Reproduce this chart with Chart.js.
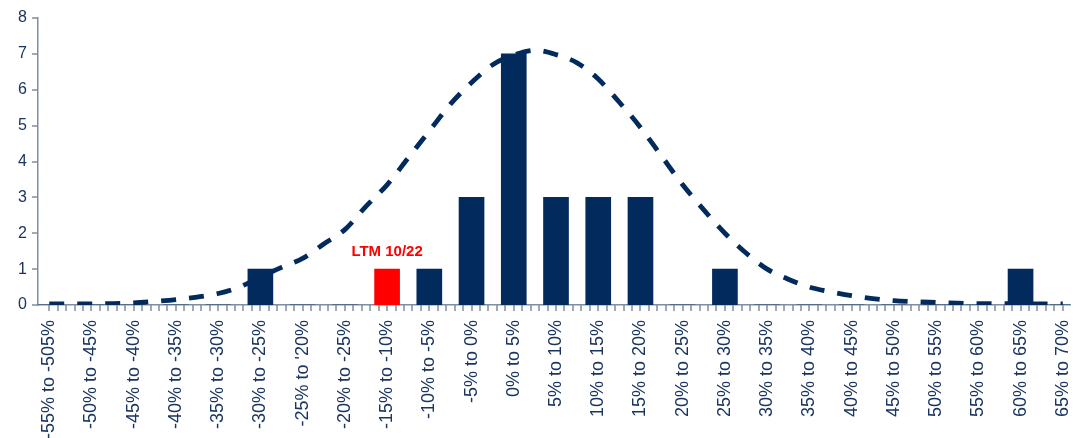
<!DOCTYPE html>
<html>
<head>
<meta charset="utf-8">
<script src="https://cdn.jsdelivr.net/npm/chart.js@4/dist/chart.umd.min.js"></script>
<style>
  html, body { margin: 0; padding: 0; background: #ffffff; }
  #wrap { width: 1074px; height: 438px; }
</style>
</head>
<body>
<div id="wrap"><canvas id="chart" width="1074" height="438"></canvas></div>
<script>
// Return bins (5% wide) and how many observations fall in each
const binLabels = [
  '-55% to -505%', '-50% to -45%', '-45% to -40%', '-40% to -35%', '-35% to -30%',
  '-30% to -25%', "-25% to '20%", '-20% to -25%', '-15% to -10%', '-10% to -5%',
  '-5% to 0%', '0% to 5%', '5% to 10%', '10% to 15%', '15% to 20%',
  '20% to 25%', '25% to 30%', '30% to 35%', '35% to 40%', '40% to 45%',
  '45% to 50%', '50% to 55%', '55% to 60%', '60% to 65%', '65% to 70%'
];
const binCounts = [0, 0, 0, 0, 0, 1, 0, 0, 1, 1, 3, 7, 3, 3, 3, 0, 1, 0, 0, 0, 0, 0, 0, 1, 0];

// Bin holding the latest twelve-month return
const highlightIndex = 8;
const highlightText = 'LTM 10/22';

// Fitted normal curve, sampled every half bin (bin index, expected count)
const curveX = [0, 0.5, 1, 1.5, 2, 2.5, 3, 3.5, 4, 4.5, 5, 5.5, 6, 6.5, 7, 7.5, 8, 8.5, 9, 9.5,
  10, 10.5, 11, 11.5, 12, 12.5, 13, 13.5, 14, 14.5, 15, 15.5, 16, 16.5, 17, 17.5, 18, 18.5, 19, 19.5,
  20, 20.5, 21, 21.5, 22, 22.5, 23, 23.5, 24];
const curveY = [0.03, 0.03, 0.03, 0.04, 0.06, 0.1, 0.15, 0.22, 0.32, 0.5, 0.78, 1.05, 1.3, 1.7, 2.1, 2.75, 3.35, 4.1, 4.85, 5.6,
  6.2, 6.7, 6.97, 7.1, 6.98, 6.75, 6.3, 5.65, 4.95, 4.15, 3.35, 2.65, 2.0, 1.45, 1.0, 0.72, 0.5, 0.37, 0.26, 0.18,
  0.12, 0.09, 0.07, 0.05, 0.04, 0.04, 0.03, 0.03, 0.03];

const yTicks = [0, 1, 2, 3, 4, 5, 6, 7, 8];

const NAVY = '#022a5c';
const RED = '#ff0000';
const AXIS = '#7f8fa3';
const TEXT = '#1a3560';

const barColors = binCounts.map((_, i) => i === highlightIndex ? RED : NAVY);

// Minor tick marks every fifth of a bin along the x axis
const xTickValues = [];
for (let k = 0; k <= binLabels.length * 5 - 5; k++) xTickValues.push(k / 5);

const isWhole = v => Math.abs(v - Math.round(v)) < 1e-6;

// Short tick marks hanging off both axes
const axisTicks = {
  id: 'axisTicks',
  afterDraw(chart) {
    const ctx = chart.ctx;
    const xs = chart.scales.x;
    const ys = chart.scales.y;
    const bottom = ys.getPixelForValue(0);
    const left = xs.left;
    ctx.save();
    ctx.strokeStyle = AXIS;
    ctx.lineWidth = 1.5;
    ctx.beginPath();
    for (const v of xTickValues) {
      const px = Math.round(xs.getPixelForValue(v));
      ctx.moveTo(px, bottom);
      ctx.lineTo(px, bottom + 6);
    }
    for (const v of yTicks) {
      const py = Math.round(ys.getPixelForValue(v));
      ctx.moveTo(left, py);
      ctx.lineTo(left - 6, py);
    }
    ctx.stroke();
    ctx.restore();
  }
};

// Writes the highlight caption above its bar
const highlightLabel = {
  id: 'highlightLabel',
  afterDatasetsDraw(chart) {
    const meta = chart.getDatasetMeta(0);
    const bar = meta.data[highlightIndex];
    if (!bar) return;
    const ctx = chart.ctx;
    ctx.save();
    ctx.font = 'bold 15px "Liberation Sans", Arial, sans-serif';
    ctx.fillStyle = RED;
    ctx.textAlign = 'center';
    ctx.textBaseline = 'alphabetic';
    ctx.fillText(highlightText, bar.x, bar.y - 13);
    ctx.restore();
  }
};

new Chart(document.getElementById('chart'), {
  data: {
    datasets: [
      {
        type: 'bar',
        label: 'Count',
        data: binCounts.map((v, i) => ({ x: i, y: v })),
        backgroundColor: barColors,
        borderWidth: 0,
        barThickness: 25,
        order: 2
      },
      {
        type: 'line',
        label: 'Normal distribution',
        data: curveX.map((x, i) => ({ x: x, y: curveY[i] })),
        borderColor: NAVY,
        borderWidth: 4.8,
        borderDash: [15, 13],
        borderCapStyle: 'butt',
        pointRadius: 0,
        fill: false,
        cubicInterpolationMode: 'monotone',
        order: 1
      }
    ]
  },
  options: {
    responsive: false,
    animation: false,
    devicePixelRatio: 1,
    layout: { padding: { top: 18, right: 4, left: 0, bottom: 0 } },
    plugins: {
      legend: { display: false },
      tooltip: { enabled: false }
    },
    scales: {
      x: {
        type: 'linear',
        min: -0.165,
        max: 24.07,
        afterBuildTicks(scale) {
          scale.ticks = xTickValues.map(v => ({ value: v }));
        },
        afterFit(scale) {
          scale.height = 133;
          scale.paddingLeft = 0;
          scale.paddingRight = 0;
          scale.paddingTop = 0;
          scale.paddingBottom = 0;
        },
        border: { display: true, color: AXIS, width: 1.5 },
        grid: { display: false, drawOnChartArea: false, tickLength: 5 },
        ticks: {
          autoSkip: false,
          minRotation: 90,
          maxRotation: 90,
          padding: 10,
          color: TEXT,
          font: { family: '"Liberation Sans", Arial, sans-serif', size: 18 },
          callback: value => isWhole(value) ? binLabels[Math.round(value)] : ''
        }
      },
      y: {
        type: 'linear',
        min: 0,
        max: 8,
        afterBuildTicks(scale) {
          scale.ticks = yTicks.map(v => ({ value: v }));
        },
        afterFit(scale) {
          scale.width = 38;
          scale.paddingTop = 0;
          scale.paddingBottom = 0;
        },
        border: { display: true, color: AXIS, width: 1.5 },
        grid: { display: false, drawOnChartArea: false, tickLength: 5 },
        ticks: {
          padding: 6,
          color: TEXT,
          font: { family: '"Liberation Sans", Arial, sans-serif', size: 16 }
        }
      }
    }
  },
  plugins: [highlightLabel, axisTicks]
});
</script>
</body>
</html>
